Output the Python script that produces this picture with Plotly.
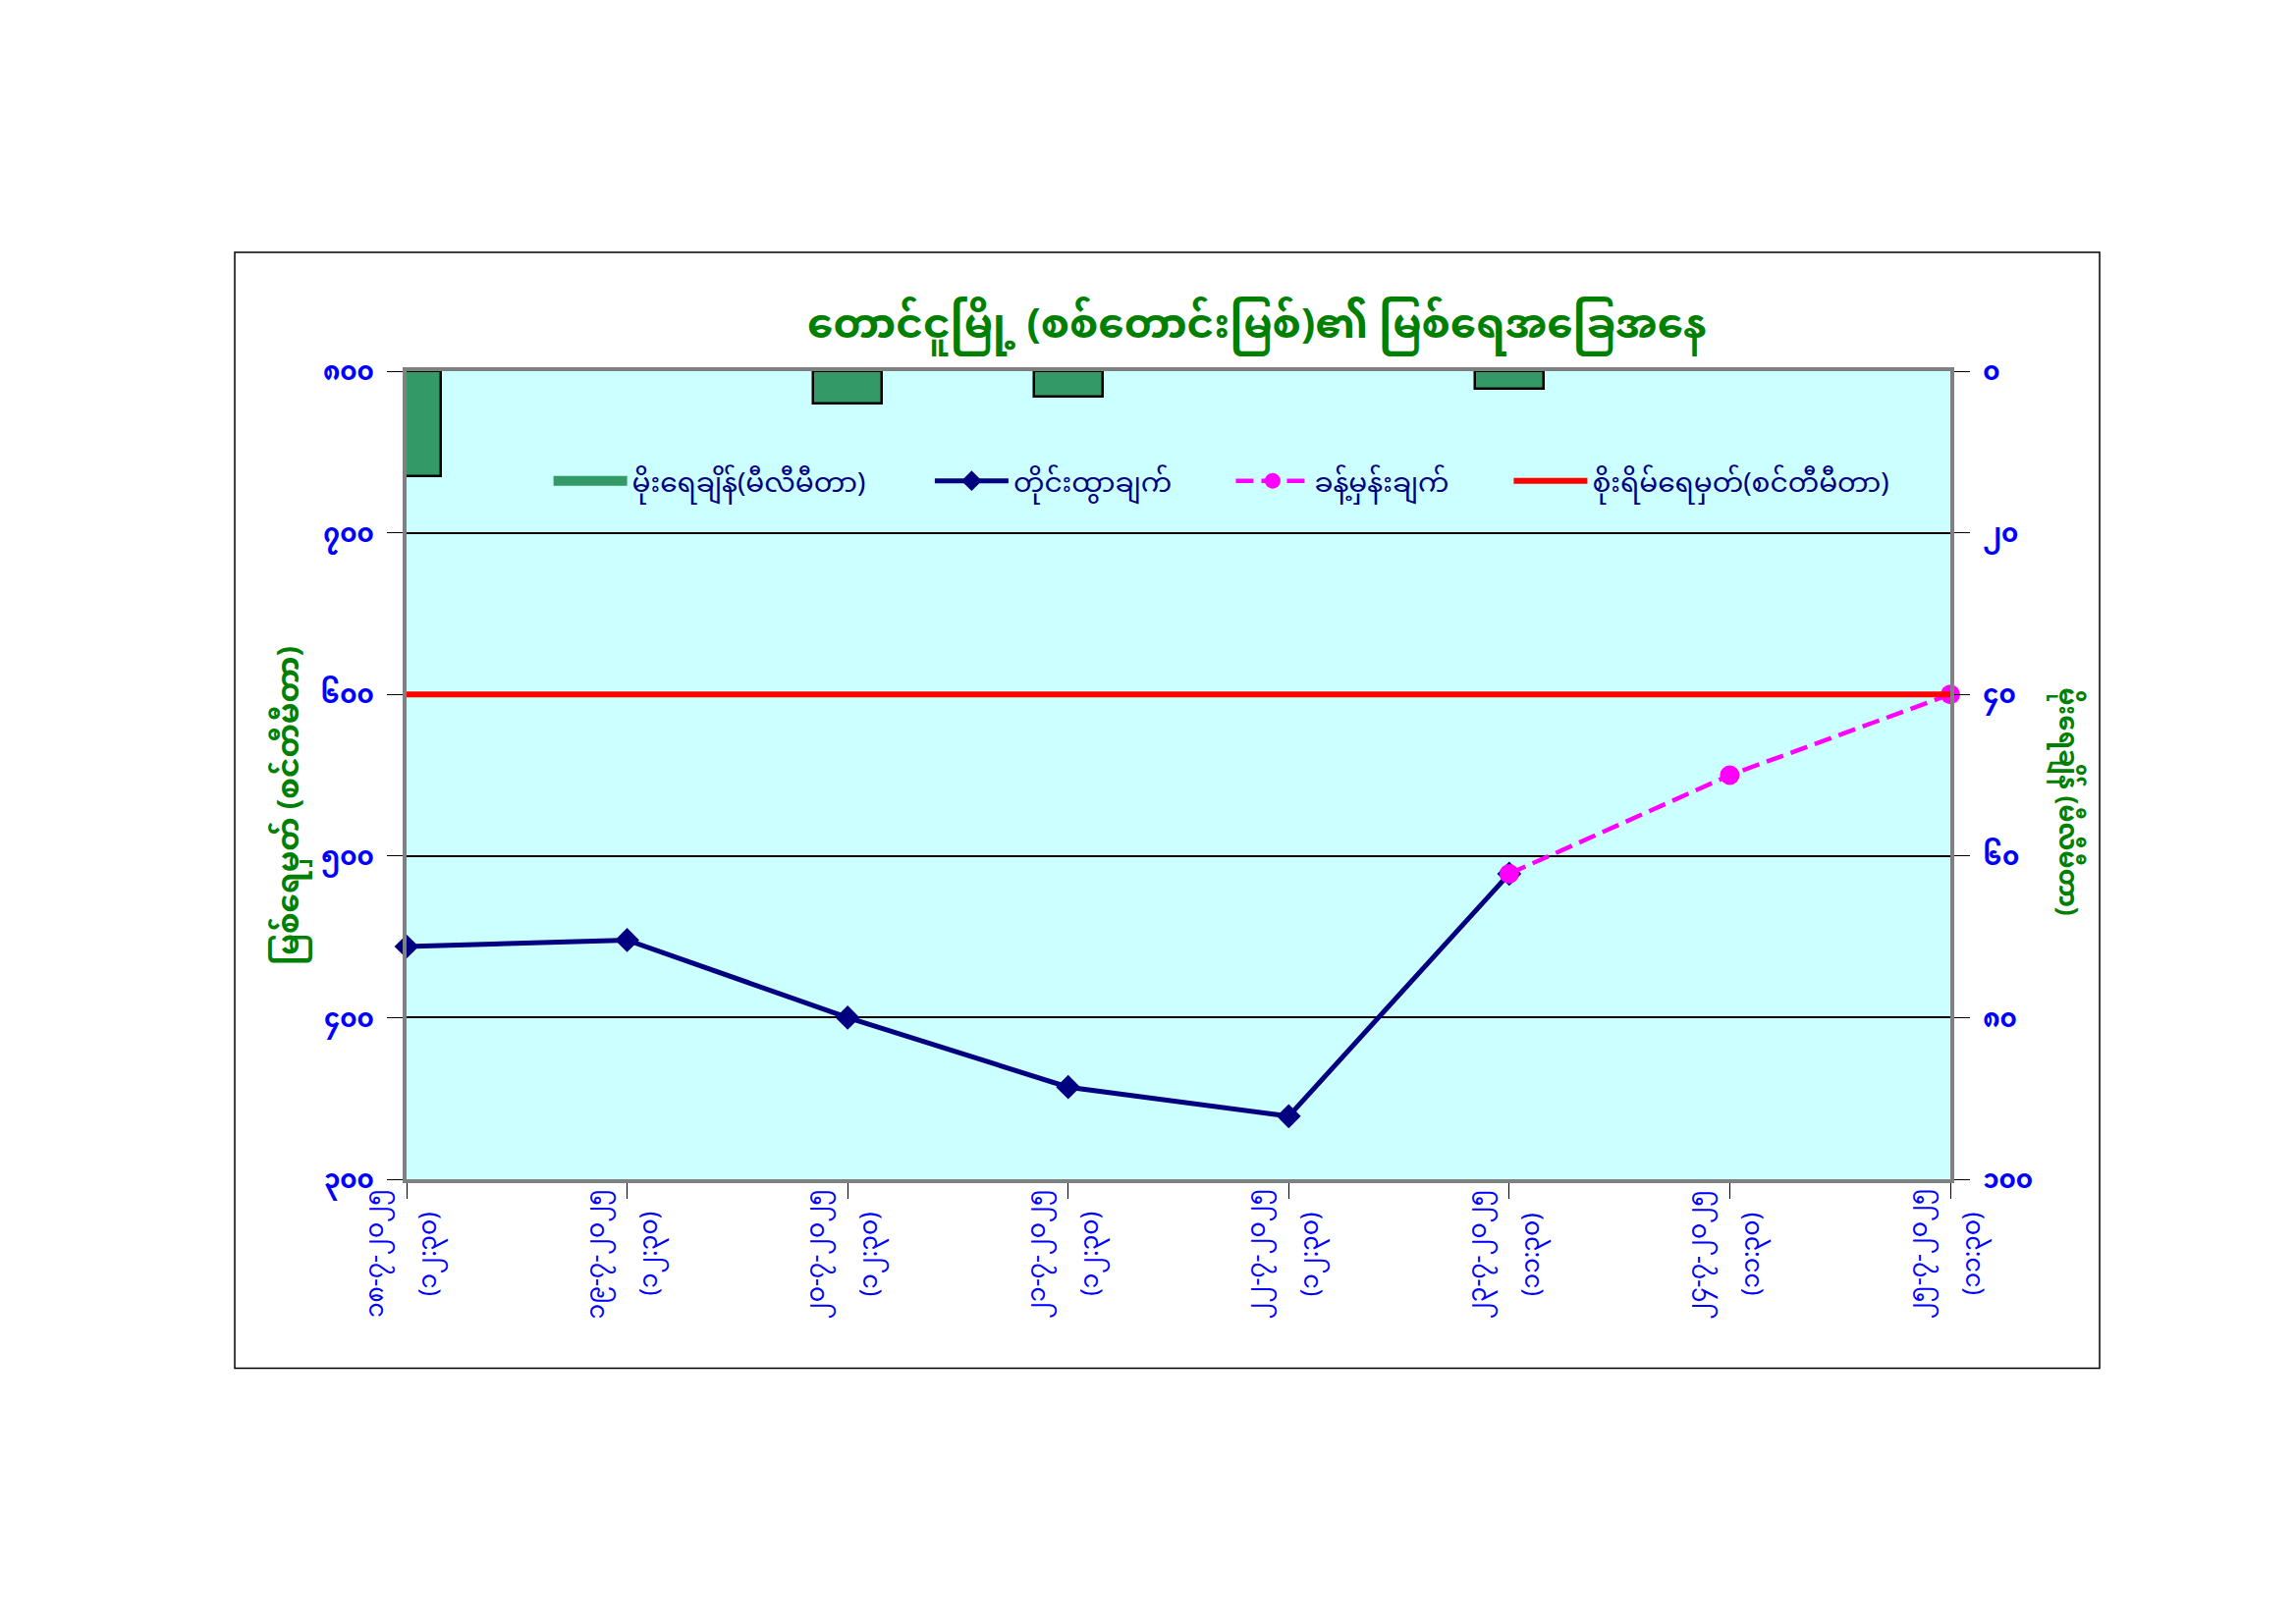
import plotly.graph_objects as go

# data
dates = ["၁၈-၇-၂၀၂၅", "၁၉-၇-၂၀၂၅", "၂၀-၇-၂၀၂၅", "၂၁-၇-၂၀၂၅",
         "၂၂-၇-၂၀၂၅", "၂၃-၇-၂၀၂၅", "၂၄-၇-၂၀၂၅", "၂၅-၇-၂၀၂၅"]
times = ["(၁၂:၃၀)", "(၁၂:၃၀)", "(၁၂:၃၀)", "(၁၂:၃၀)",
         "(၁၂:၃၀)", "(၁၁:၃၀)", "(၁၁:၃၀)", "(၁၁:၃၀)"]

rainfall_mm = [13.0, None, 4.0, 3.1, None, 2.2, None, None]
observed_cm = [444, 448, 400, 357, 339, 489]
forecast_cm = [489, 550, 600]
danger_cm = [600] * len(dates)

left_ticks = [300, 400, 500, 600, 700, 800]
left_labels = ["၃၀၀", "၄၀၀", "၅၀၀", "၆၀၀", "၇၀၀", "၈၀၀"]
right_ticks = [0, 20, 40, 60, 80, 100]
right_labels = ["၀", "၂၀", "၄၀", "၆၀", "၈၀", "၁၀၀"]

title_text = "တောင်ငူမြို့ (စစ်တောင်းမြစ်)၏ မြစ်ရေအခြေအနေ"
left_title = "မြစ်ရေမှတ် (စင်တီမီတာ)"
right_title = "မိုးရေချိန် (မီလီမီတာ)"
names = ["မိုးရေချိန်(မီလီမီတာ)", "တိုင်းထွာချက်", "ခန့်မှန်းချက်", "စိုးရိမ်ရေမှတ်(စင်တီမီတာ)"]

FONT = "Noto Sans Myanmar, Padauk, Myanmar Text, Noto Sans, sans-serif"
BLUE = "#0000FF"
GREEN = "#008000"
BAR_GREEN = "#339966"

fig = go.Figure()

fig.add_trace(go.Bar(
    x=dates, y=rainfall_mm, name=names[0], yaxis="y2", showlegend=False,
    width=0.31, marker=dict(color=BAR_GREEN, line=dict(color="black", width=2.5)),
))
# legend proxy so the rainfall key is drawn as a wide block like the original
fig.add_trace(go.Scatter(
    x=[None], y=[None], name=names[0], mode="lines", legend="legend",
    line=dict(color=BAR_GREEN, width=15),
))
fig.add_trace(go.Scatter(
    x=dates[:len(observed_cm)], y=observed_cm, name=names[1], mode="lines+markers", legend="legend2",
    line=dict(color="#000080", width=5), marker=dict(symbol="diamond", size=19, color="#000080"),
    cliponaxis=False,
))
fig.add_trace(go.Scatter(
    x=dates[-len(forecast_cm):], y=forecast_cm, name=names[2], mode="lines+markers", legend="legend3",
    line=dict(color="#FF00FF", width=4.5, dash="18px,8px"), marker=dict(symbol="circle", size=20, color="#FF00FF"),
    cliponaxis=False,
))
fig.add_trace(go.Scatter(
    x=dates, y=danger_cm, name=names[3], mode="lines", legend="legend4",
    line=dict(color="#FF0000", width=6),
))

legend_style = dict(orientation="h", y=0.864, xanchor="left", yanchor="middle",
                    bgcolor="rgba(0,0,0,0)", font=dict(size=28, color="#000080"), itemwidth=75)

fig.update_layout(
    width=2338, height=1654,
    margin=dict(l=406, r=360, t=370, b=461),
    paper_bgcolor="white", plot_bgcolor="#CCFFFF",
    font=dict(family=FONT, color=BLUE),
    title=dict(text="<b>" + title_text + "</b>", x=0.544, xanchor="center", y=0.806, yanchor="middle",
               font=dict(size=42, color=GREEN)),
    showlegend=True,
    legend=dict(x=0.092, **legend_style),
    legend2=dict(x=0.339, **legend_style),
    legend3=dict(x=0.534, **legend_style),
    legend4=dict(x=0.714, **legend_style),
    bargap=0,
    xaxis=dict(type="category", range=[0, len(dates) - 1], showticklabels=False,
               showline=True, linecolor="#808080", linewidth=4, mirror=True,
               ticks="outside", tickcolor="black", ticklen=16, showgrid=False),
    yaxis=dict(range=[300, 800], tickvals=left_ticks, ticktext=["<b>" + t + "</b>" for t in left_labels],
               showline=True, linecolor="#808080", linewidth=4,
               ticks="outside", tickcolor="black", ticklen=16, ticklabelstandoff=8,
               showgrid=True, gridcolor="black", gridwidth=1.5, zeroline=False,
               tickfont=dict(size=26, color=BLUE)),
    yaxis2=dict(range=[100, 0], tickvals=right_ticks, ticktext=["<b>" + t + "</b>" for t in right_labels],
                overlaying="y", side="right", showline=True, linecolor="#808080", linewidth=4,
                ticks="outside", tickcolor="black", ticklen=16, ticklabelstandoff=8,
                showgrid=False, zeroline=False,
                tickfont=dict(size=26, color=BLUE)),
)

# category labels: date and time as two rotated lines under each tick
for d, t in zip(dates, times):
    fig.add_annotation(text=d, x=d, xref="x", yref="paper", y=-0.0924, xshift=-30,
                       textangle=-90, showarrow=False, xanchor="center", yanchor="middle",
                       font=dict(size=25, color=BLUE))
    fig.add_annotation(text=t, x=d, xref="x", yref="paper", y=-0.0924, xshift=24,
                       textangle=-90, showarrow=False, xanchor="center", yanchor="middle",
                       font=dict(size=25, color=BLUE))

# axis titles
fig.add_annotation(text="<b>" + left_title + "</b>", xref="paper", yref="paper",
                   x=-0.0743, y=0.462, textangle=-90, showarrow=False,
                   xanchor="center", yanchor="middle", font=dict(size=31, color=GREEN))
fig.add_annotation(text="<b>" + right_title + "</b>", xref="paper", yref="paper",
                   x=1.0748, y=0.468, textangle=90, showarrow=False,
                   xanchor="center", yanchor="middle", font=dict(size=26, color=GREEN))

# outer chart frame
fig.add_shape(type="rect", xref="paper", yref="paper", x0=-0.1113, x1=1.0967, y0=-0.2339, y1=1.147,
              line=dict(color="black", width=1.5), layer="below")

fig.write_html("out.html")
